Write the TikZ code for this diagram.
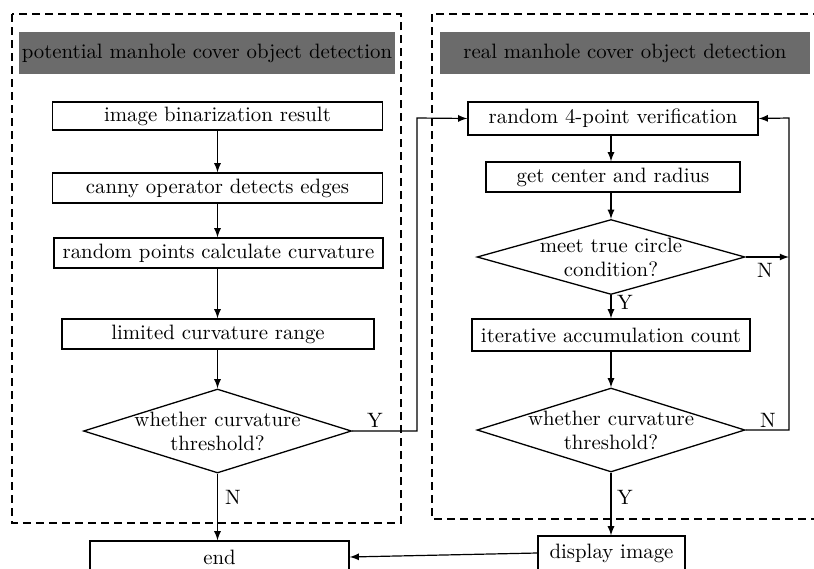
\documentclass[tikz,border=0pt]{standalone}
\usetikzlibrary{arrows,calc,shapes.geometric}
\definecolor{HeadClr}{rgb}{0.42,0.42,0.42}

\begin{document}
\begin{tikzpicture}[x=0.5pt,y=-0.5pt,
  font=\fontsize{10.4}{12}\selectfont,
  box/.style={draw,line width=0.65pt,inner sep=0pt,minimum height=15pt},
  dec/.style={draw,line width=0.65pt,diamond,inner sep=0pt,minimum width=134pt},
  head/.style={fill=HeadClr,inner sep=0pt,minimum width=#1,minimum height=21pt},
  frame/.style={line width=1pt,dash pattern=on 4pt off 2.5pt},
  arr/.style={-latex,line width=0.6pt},
  lbl/.style={inner sep=0pt}]
\useasboundingbox (0,0) rectangle (814,568);

\draw[frame] (12,14) rectangle (401,523);
\draw[frame] (432,14) rectangle (830,519);

\node[head=188pt] (h1) at (207,53) {potential manhole cover object detection};
\node[head=185pt] (h2) at (625,53) {real manhole cover object detection};

\node[box,minimum width=165pt,minimum height=14pt] (b1) at (217.5,116) {image binarization result};
\node[box,minimum width=165pt] (b2) at (217.5,188) {canny operator detects edges};
\node[box,minimum width=164.5pt] (b3) at (218.5,253) {random points calculate curvature};
\node[box,minimum width=156pt] (b4) at (218,334) {limited curvature range};
\node[dec,minimum height=42pt,label={[align=center]center:whether curvature\\threshold?}] (d1) at (217.5,431) {};
\node[box,minimum width=129.5pt,minimum height=16pt] (endb) at (219.5,557) {end};

\node[box,minimum width=145pt,minimum height=16.5pt] (b5) at (613,118.5) {random 4-point verification};
\node[box,minimum width=127pt] (b6) at (613,177) {get center and radius};
\node[dec,minimum height=37.5pt,label={[align=center]center:meet true circle\\condition?}] (d2) at (611,257) {};
\node[box,minimum width=139pt,minimum height=16pt] (b7) at (611,335) {iterative accumulation count};
\node[dec,minimum height=42pt,label={[align=center]center:whether curvature\\threshold?}] (d3) at (611,430) {};
\node[box,minimum width=73.5pt,minimum height=17pt] (disp) at (611.5,553) {display image};

\coordinate (yr) at (417,118);
\coordinate (loop) at (789,118);

\draw[arr] (d1.north |- b1.south) -- (d1.north |- b2.north);
\draw[arr] (d1.north |- b2.south) -- (d1.north |- b3.north);
\draw[arr] (d1.north |- b3.south) -- (d1.north |- b4.north);
\draw[arr] (d1.north |- b4.south) -- (d1.north);
\draw[arr] (d1.south) -- (d1.south |- endb.north);
\draw[arr] (d1.east) -| (yr) -- (b5.west);

\draw[arr] (d2.north |- b5.south) -- (d2.north |- b6.north);
\draw[arr] (d2.north |- b6.south) -- (d2.north);
\draw[arr] (d2.south) -- (d2.south |- b7.north);
\draw[arr] (d3.north |- b7.south) -- (d3.north);
\draw[arr] (d3.south) -- (d3.south |- disp.north);
\draw[arr] (d2.east) -- (d2.east -| loop);
\draw[arr] (d3.east) -| (loop) -- (b5.east);
\draw[arr] (disp.west) -- (endb.east);

\node[lbl] (y1) at (375,420) {Y};
\node[lbl] (n1) at (233,497) {N};
\node[lbl] (n2) at (765,270) {N};
\node[lbl] (y2) at (625,302) {Y};
\node[lbl] (n3) at (768,420) {N};
\node[lbl] (y3) at (625,497) {Y};

\end{tikzpicture}
\end{document}
